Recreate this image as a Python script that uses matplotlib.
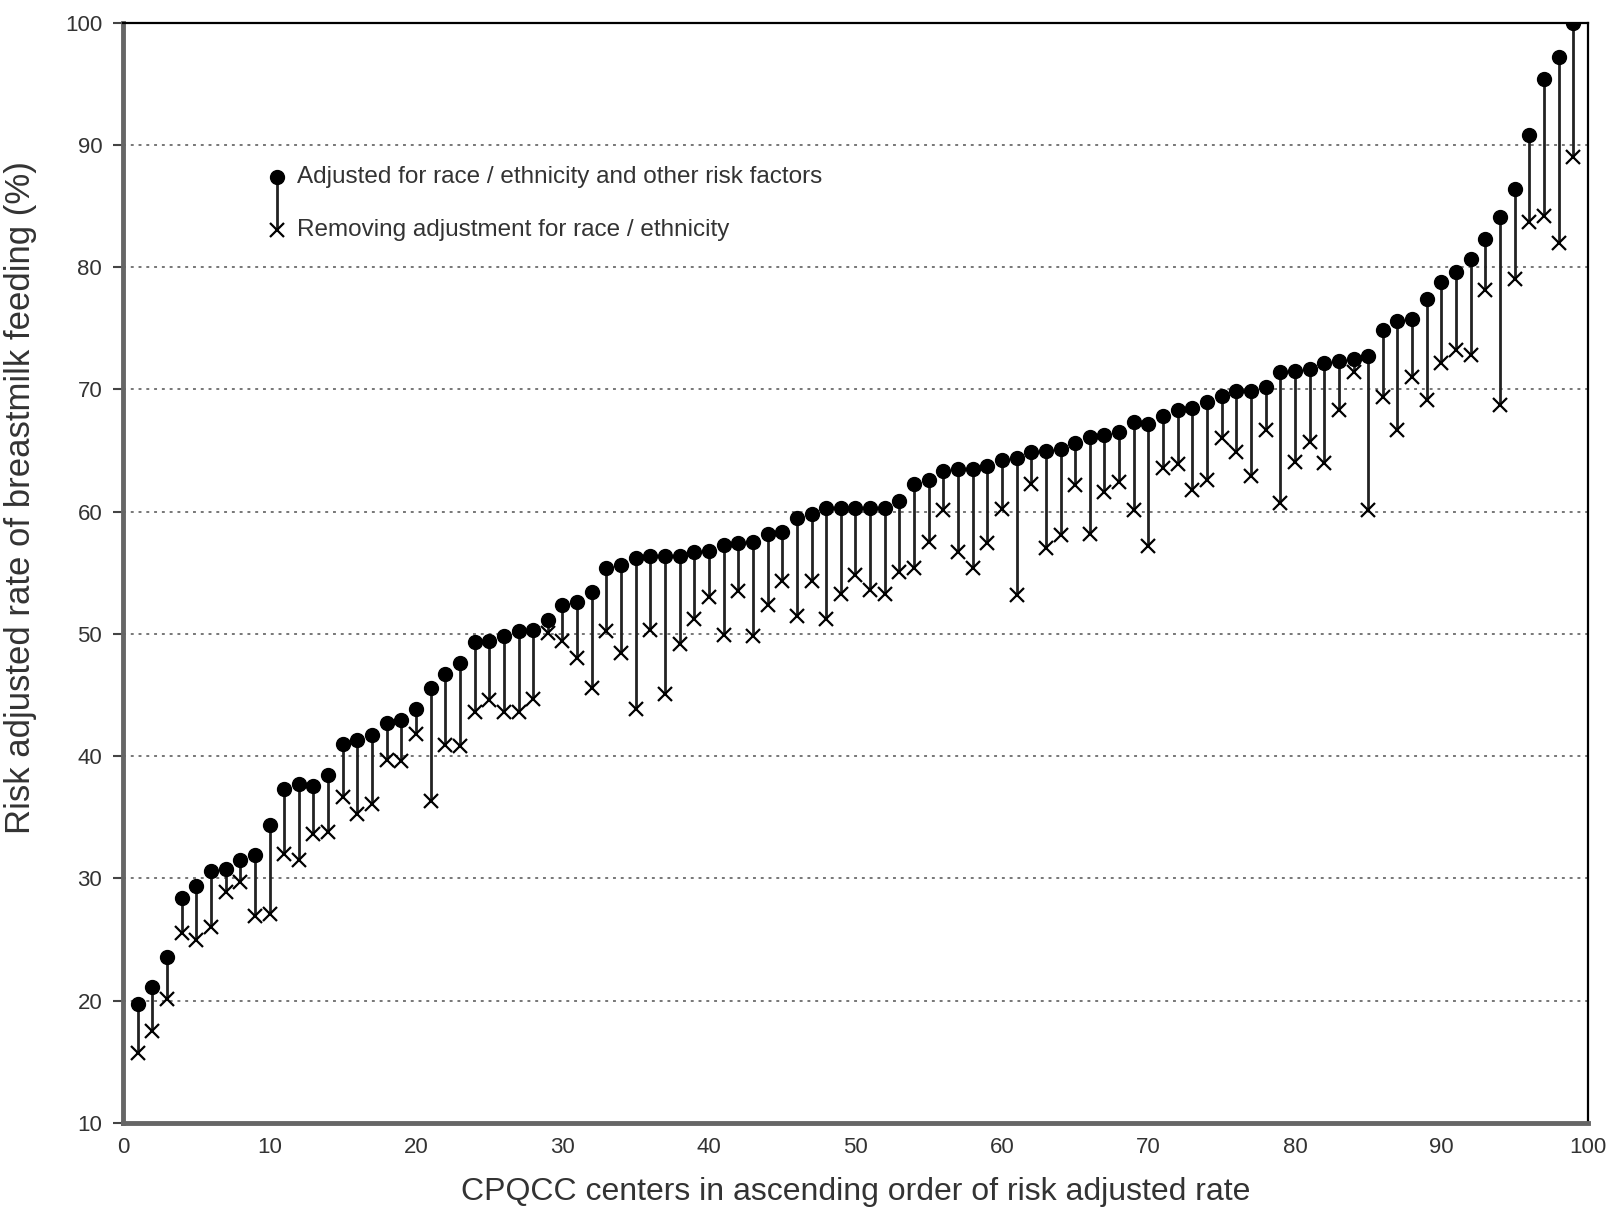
import numpy as np
import matplotlib
matplotlib.use('Agg')
import matplotlib.pyplot as plt
from matplotlib.ticker import MultipleLocator

plt.rcParams['font.family'] = ['Liberation Sans', 'DejaVu Sans']

# centers 1..99, ranked by risk adjusted rate
centers = np.arange(1, 100)

# adjusted for race / ethnicity and other risk factors (%)
adjusted = [19.7, 21.1, 23.6, 28.4, 29.4, 30.6, 30.8, 31.5, 31.9, 34.4,
            37.3, 37.7, 37.6, 38.5, 41.0, 41.3, 41.7, 42.7, 43.0, 43.9,
            45.6, 46.7, 47.6, 49.3, 49.4, 49.8, 50.2, 50.3, 51.1, 52.4,
            52.6, 53.4, 55.4, 55.6, 56.2, 56.4, 56.4, 56.4, 56.7, 56.8,
            57.3, 57.4, 57.5, 58.2, 58.3, 59.5, 59.8, 60.3, 60.3, 60.3,
            60.3, 60.3, 60.9, 62.3, 62.6, 63.3, 63.5, 63.5, 63.7, 64.2,
            64.4, 64.9, 65.0, 65.1, 65.6, 66.1, 66.3, 66.5, 67.3, 67.2,
            67.8, 68.3, 68.5, 69.0, 69.5, 69.9, 69.9, 70.2, 71.4, 71.5,
            71.7, 72.2, 72.3, 72.5, 72.7, 74.9, 75.6, 75.8, 77.4, 78.8,
            79.6, 80.7, 82.3, 84.1, 86.4, 90.8, 95.4, 97.2, 100.0]

# removing adjustment for race / ethnicity (%)
removed = [15.7, 17.5, 20.1, 25.5, 25.0, 26.0, 28.9, 29.7, 26.9, 27.1,
           32.0, 31.5, 33.6, 33.8, 36.7, 35.3, 36.1, 39.7, 39.6, 41.8,
           36.3, 40.9, 40.8, 43.6, 44.6, 43.6, 43.6, 44.7, 50.1, 49.4,
           48.0, 45.6, 50.2, 48.4, 43.9, 50.3, 45.1, 49.2, 51.2, 53.0,
           49.9, 53.5, 49.8, 52.4, 54.3, 51.5, 54.3, 51.2, 53.3, 54.8,
           53.6, 53.3, 55.1, 55.4, 57.5, 60.1, 56.7, 55.4, 57.4, 60.2,
           53.2, 62.3, 57.0, 58.1, 62.2, 58.2, 61.6, 62.4, 60.1, 57.2,
           63.6, 63.9, 61.8, 62.6, 66.0, 64.9, 62.9, 66.7, 60.7, 64.1,
           65.7, 64.0, 68.3, 71.4, 60.1, 69.4, 66.7, 71.0, 69.1, 72.2,
           73.2, 72.8, 78.1, 68.7, 79.0, 83.7, 84.2, 82.0, 89.0]

fig = plt.figure(figsize=(16.08, 12.11), dpi=100)
ax = fig.add_axes([0.0765, 0.0727, 0.911, 0.9086])

ax.vlines(centers, removed, adjusted, colors='#222222', lw=2, zorder=2)
ax.plot(centers, adjusted, 'o', color='black', ms=10, zorder=3)
ax.plot(centers, removed, 'x', color='black', ms=10, mew=1.6, zorder=3)

ax.set_xlim(0, 100)
ax.set_ylim(10, 100)
ax.xaxis.set_major_locator(MultipleLocator(10))
ax.yaxis.set_major_locator(MultipleLocator(10))
for yv in range(20, 100, 10):
    ax.axhline(yv, color='#777777', lw=1.4, ls=(0, (1.5, 2.5)), zorder=1)

for s in ['left', 'bottom']:
    ax.spines[s].set_linewidth(3.5)
    ax.spines[s].set_color('#666666')
for s in ['top', 'right']:
    ax.spines[s].set_linewidth(1.6)
    ax.spines[s].set_color('black')

ax.tick_params(axis='x', length=0, pad=10, labelsize=16, labelcolor='#333333')
ax.tick_params(axis='y', length=7, width=1.5, color='#444444', pad=8,
               labelsize=16, labelcolor='#333333')

ax.set_xlabel('CPQCC centers in ascending order of risk adjusted rate',
              fontsize=23, color='#333333', labelpad=14)
ax.set_ylabel('Risk adjusted rate of breastmilk feeding (%)',
              fontsize=25, color='#333333')
ax.yaxis.set_label_coords(-0.059, 0.568)

# legend glyph: dot linked to cross
lx, ly1, ly2 = 0.105, 0.860, 0.812
ax.plot([lx, lx], [ly1, ly2], color='#222222', lw=2, transform=ax.transAxes)
ax.plot([lx], [ly1], 'o', color='black', ms=10, transform=ax.transAxes)
ax.plot([lx], [ly2], 'x', color='black', ms=10, mew=1.6, transform=ax.transAxes)
ax.text(0.119, ly1, 'Adjusted for race / ethnicity and other risk factors',
        transform=ax.transAxes, va='center', fontsize=17.5, color='#333333')
ax.text(0.119, ly2, 'Removing adjustment for race / ethnicity',
        transform=ax.transAxes, va='center', fontsize=17.5, color='#333333')

plt.savefig('out.png', dpi=100)
